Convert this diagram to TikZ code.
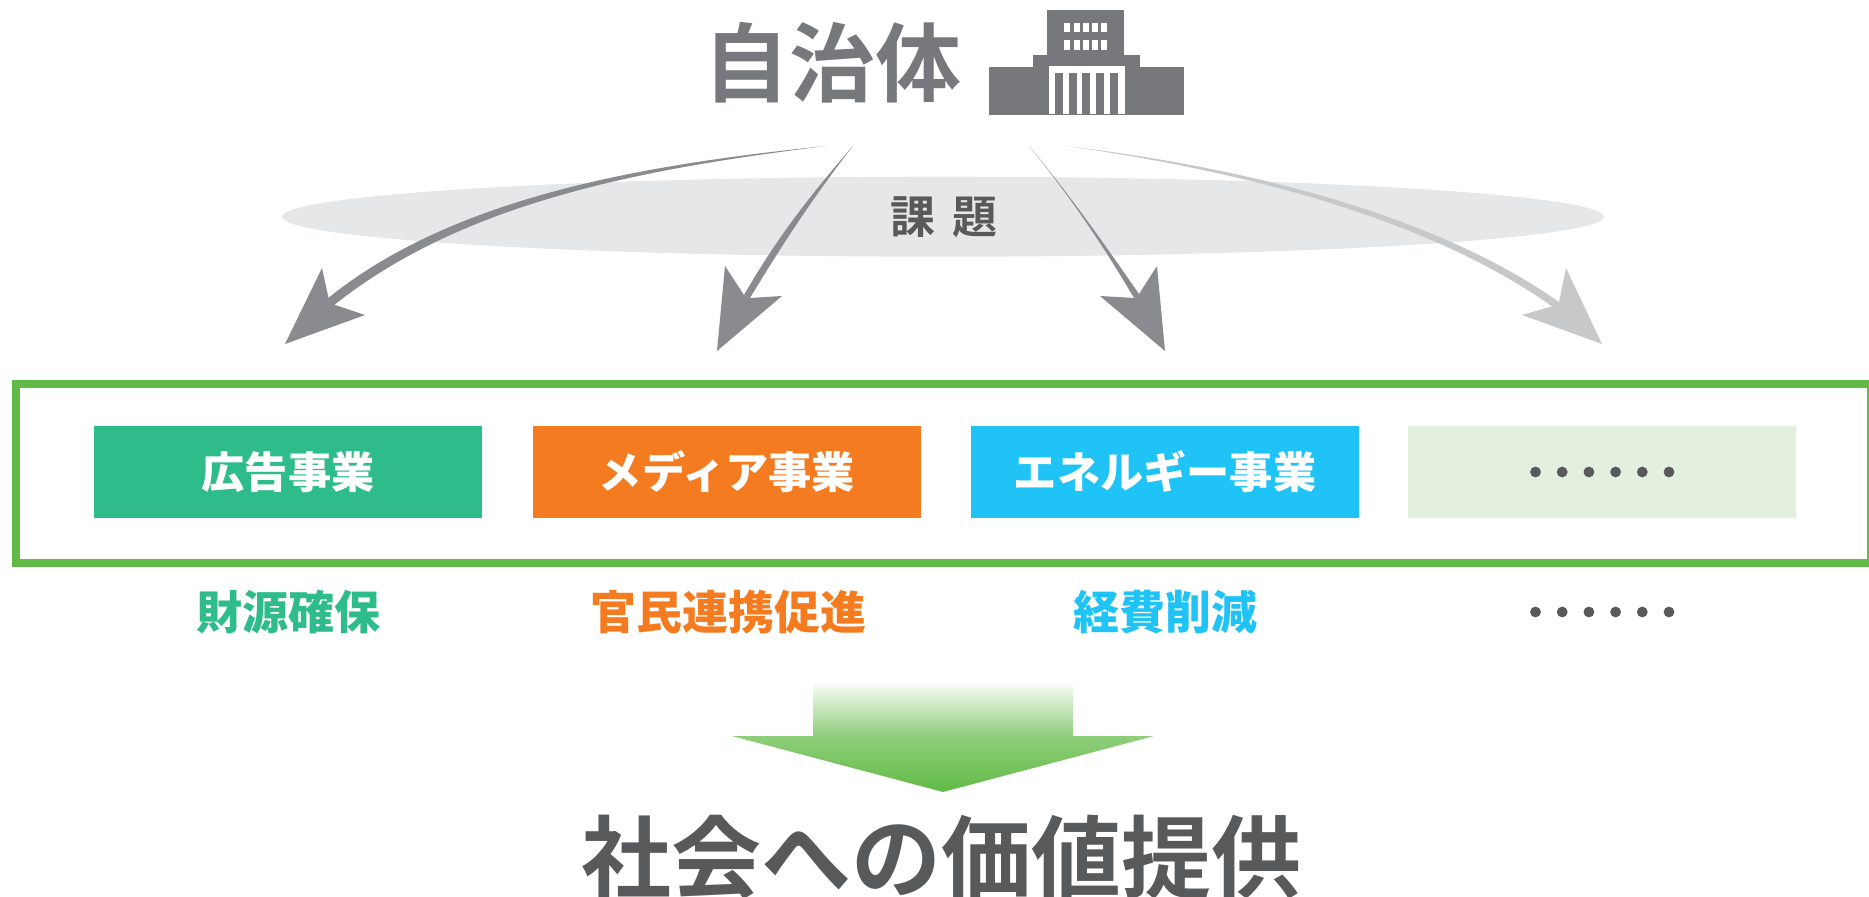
\documentclass[tikz,border=0pt]{standalone}
\usepackage{fontspec}
\setmainfont{Noto Sans CJK JP}[BoldFont={* Bold}]
\newfontfamily\heavy{Noto Sans CJK JP Black}
\usetikzlibrary{shadings}
\definecolor{bargreen}{HTML}{62BB46}
\definecolor{tealc}{HTML}{2EBC8A}
\definecolor{orgc}{HTML}{F57B20}
\definecolor{skyc}{HTML}{20C3F5}
\definecolor{palec}{HTML}{E4F0DF}
\definecolor{dgray}{HTML}{58595B}
\definecolor{tgray}{HTML}{77787B}
\definecolor{agray}{HTML}{8A8B8E}
\definecolor{lgray}{HTML}{C7C8CA}
\definecolor{egray}{HTML}{E6E7E8}
\tikzset{
  biz/.style={minimum width=194pt,minimum height=46pt,inner sep=0pt,text=white,font=\heavy\fontsize{21.6}{22}\selectfont},
  gain/.style={font=\heavy\fontsize{23}{23}\selectfont,inner sep=0pt},
  dotmark/.style={fill=dgray},
  barkey/.style={fill=tgray}
}
\begin{document}
\begin{tikzpicture}[x=0.5pt,y=-0.5pt]
\useasboundingbox (0,0) rectangle (1869,897);
% ellipse
\fill[egray] (943,216.7) ellipse [x radius=661,y radius=40];
\node[font=\bfseries\fontsize{22.5}{23}\selectfont,text=dgray,inner sep=0pt] (kadai) at (944,217.5) {課\hspace{0.36em}題};
% title
\node[font=\bfseries\fontsize{43}{43}\selectfont,text=tgray,inner sep=0pt] (jichi) at (832,63) {自治体};
% building
\fill[tgray] (989,67) rectangle (1184,115);
\fill[tgray] (1033,55) rectangle (1140,70);
\fill[tgray] (1047,10) rectangle (1124,60);
\fill[white] (1048.5,66) rectangle (1125,114);
\foreach \x in {1055,1069,1082,1096,1110} \fill[barkey] (\x,73) rectangle ++(8,41);
\foreach \x in {1064,1073.5,1083,1092,1101} {
  \fill[white] (\x,23) rectangle ++(6,9);
  \fill[white] (\x,40) rectangle ++(6,10);
}
% curved arrows
\coordinate (a1s) at (826,146);
\coordinate (a1t) at (285,344);
\fill[agray] (a1s) .. controls (650,168) and (465,200) .. (333,306)
  -- (327,299) .. controls (455,195) and (650,164) .. cycle;
\fill[agray] (a1t) -- (322,268) -- (329,300) -- (335,305) -- (365,315) -- cycle;
\coordinate (a2s) at (853,146);
\coordinate (a2t) at (717,351);
\fill[agray] (a2s) .. controls (815,195) and (785,240) .. (750,298)
  -- (744,295) .. controls (778,236) and (812,193) .. cycle;
\fill[agray] (a2t) -- (725,266) -- (744,295) -- (750,298) -- (782,296) -- cycle;
\coordinate (a3s) at (1029,146);
\coordinate (a3t) at (1165,351);
\fill[agray] (a3s) .. controls (1070,195) and (1105,245) .. (1139,294)
  -- (1134,298) .. controls (1100,240) and (1065,190) .. cycle;
\fill[agray] (a3t) -- (1157,266) -- (1139,294) -- (1134,298) -- (1100,296) -- cycle;
\coordinate (a4s) at (1066,146);
\coordinate (a4t) at (1602,344);
\fill[lgray] (a4s) .. controls (1250,168) and (1435,215) .. (1559,302)
  -- (1553,307) .. controls (1430,220) and (1250,172) .. cycle;
\fill[lgray] (a4t) -- (1566,268) -- (1559,302) -- (1553,306) -- (1522,315) -- cycle;
% frame
\draw[bargreen,line width=4pt] (16,384.5) rectangle (1871,562.7);
% business boxes
\node[biz,fill=tealc] (b1) at (288,472) {広告事業};
\node[biz,fill=orgc] (b2) at (727,472) {メディア事業};
\node[biz,fill=skyc] (b3) at (1165,472) {エネルギー事業};
\node[biz,fill=palec] (b4) at (1601.5,472) {};
\foreach \x in {0,...,5} {
  \fill[dotmark] ({1535.5+\x*26.7},472) circle (5.4);
  \fill[dotmark] ({1535.5+\x*26.7},612) circle (5.4);
}
\node[gain,text=tealc] (g1) at (288,612) {財源確保};
\node[gain,text=orgc] (g2) at (728,612) {官民連携促進};
\node[gain,text=skyc] (g3) at (1165,612) {経費削減};
% big arrow
\shade[top color=white,bottom color=bargreen,shading angle=0,middle color=bargreen!72!white]
  (813,680) -- (1073,680) -- (1073,736) -- (1154,736) -- (943,792) -- (732,736) -- (813,736) -- cycle;
\node[font=\bfseries\fontsize{45}{45}\selectfont,text=dgray,inner sep=0pt] (val) at (941,857) {社会への価値提供};
\end{tikzpicture}
\end{document}
